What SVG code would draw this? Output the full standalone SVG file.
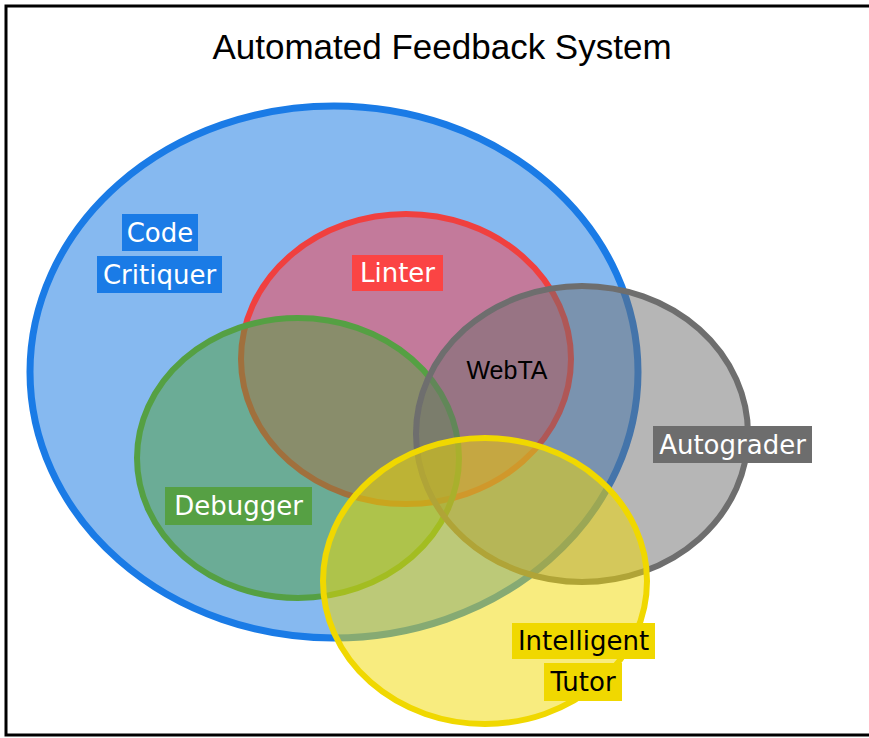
<svg xmlns="http://www.w3.org/2000/svg" width="869" height="738" viewBox="0 0 869 738">
<style>
.lbl{font-family:"DejaVu Sans",Verdana,sans-serif;font-size:26px;text-anchor:middle;fill:#fff}
.title{font-family:"Liberation Sans",Arial,sans-serif;font-size:35px;text-anchor:middle;fill:#000}
</style>
<rect x="0" y="0" width="869" height="738" fill="#fff"/>
<rect x="6" y="6" width="900" height="729" fill="#fff" stroke="#000" stroke-width="3"/>
<text class="title" x="442" y="59">Automated Feedback System</text>
<g id="code-critiquer">
<ellipse cx="334" cy="372" rx="304" ry="266" fill="#86b9f0" stroke="#1a7be6" stroke-width="7"/>
</g>
<g id="linter">
<ellipse cx="406" cy="359" rx="165" ry="145" fill="rgba(255,60,70,0.5)" stroke="#f0403f" stroke-width="6"/>
</g>
<g id="debugger">
<ellipse cx="298" cy="458" rx="161" ry="140" fill="rgba(80,160,60,0.5)" stroke="#55a043" stroke-width="6"/>
</g>
<g id="autograder">
<ellipse cx="582" cy="434" rx="166" ry="148" fill="rgba(110,110,110,0.5)" stroke="#6e6e6e" stroke-width="6"/>
</g>
<g id="intelligent-tutor">
<ellipse cx="485" cy="581" rx="162" ry="143" fill="rgba(242,218,0,0.5)" stroke="#f0d800" stroke-width="6"/>
</g>
<g id="labels">
<rect x="122" y="214" width="76" height="37" fill="#1a7be6"/>
<text class="lbl" x="160" y="242">Code</text>
<rect x="97" y="256" width="125" height="37" fill="#1a7be6"/>
<text class="lbl" x="159.5" y="284">Critiquer</text>
<rect x="352" y="255" width="91" height="36" fill="#fb4444"/>
<text class="lbl" x="397.5" y="282">Linter</text>
<rect x="165" y="487" width="147" height="38" fill="#56a044"/>
<text class="lbl" x="238.5" y="515">Debugger</text>
<rect x="653" y="426" width="159" height="37" fill="#6d6d6d"/>
<text class="lbl" x="732.5" y="454">Autograder</text>
<rect x="512" y="623" width="143" height="36" fill="#f0d800"/>
<text class="lbl" x="583.5" y="650" style="fill:#000">Intelligent</text>
<rect x="544" y="663" width="78" height="38" fill="#f0d800"/>
<text class="lbl" x="583" y="691" style="fill:#000">Tutor</text>
<text x="507" y="379" font-family="Liberation Sans,Arial,sans-serif" font-size="25" text-anchor="middle" fill="#000">WebTA</text>
</g>
</svg>
